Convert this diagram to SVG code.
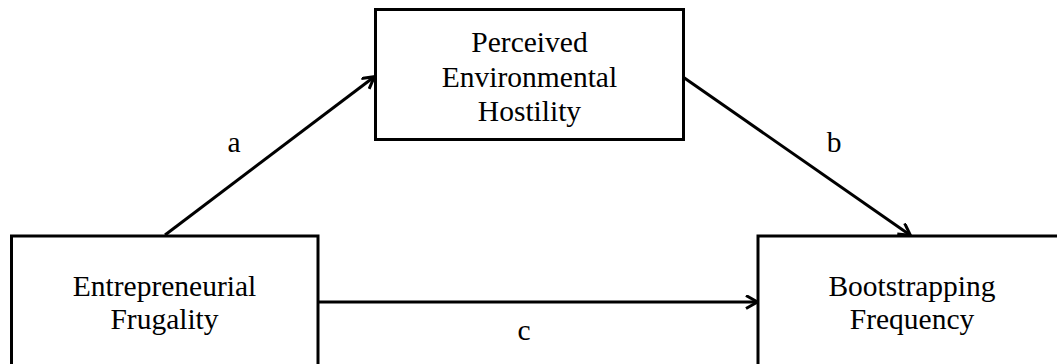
<svg xmlns="http://www.w3.org/2000/svg" width="1057" height="364" viewBox="0 0 1057 364">
  <defs>
    <style>
      .box { fill: #ffffff; stroke: #000000; stroke-width: 3; }
      .label { font-family: "Liberation Serif", "Times New Roman", serif; font-size: 29.5px; fill: #000000; text-anchor: middle; }
      .edge { stroke: #000000; stroke-width: 3; fill: none; }
    </style>
    <marker id="arrow" markerUnits="userSpaceOnUse" markerWidth="20" markerHeight="20" refX="12" refY="7" orient="auto">
      <path d="M1,0.5 L12.5,7 L1,13.5" fill="none" stroke="#000000" stroke-width="3"/>
    </marker>
  </defs>
  <rect width="1057" height="364" fill="#ffffff"/>

  <g id="connectors">
    <line class="edge" x1="165" y1="235" x2="374" y2="77" marker-end="url(#arrow)"/>
    <line class="edge" x1="683" y1="77" x2="910" y2="235" marker-end="url(#arrow)"/>
    <line class="edge" x1="318" y1="302" x2="757" y2="302" marker-end="url(#arrow)"/>
    <text class="label" x="234" y="152">a</text>
    <text class="label" x="834" y="152">b</text>
    <text class="label" x="524" y="340">c</text>
  </g>

  <g id="hostility">
    <rect class="box" x="375.5" y="9.5" width="308" height="130"/>
    <text class="label" x="529.5" y="52">Perceived</text>
    <text class="label" x="529.5" y="86.5">Environmental</text>
    <text class="label" x="529.5" y="121">Hostility</text>
  </g>

  <g id="frugality">
    <rect class="box" x="11.5" y="236" width="306.5" height="140"/>
    <text class="label" x="164.5" y="296">Entrepreneurial</text>
    <text class="label" x="164.5" y="329">Frugality</text>
  </g>

  <g id="bootstrapping">
    <rect class="box" x="758" y="236" width="308" height="140"/>
    <text class="label" x="912" y="296">Bootstrapping</text>
    <text class="label" x="912" y="329">Frequency</text>
  </g>
</svg>
